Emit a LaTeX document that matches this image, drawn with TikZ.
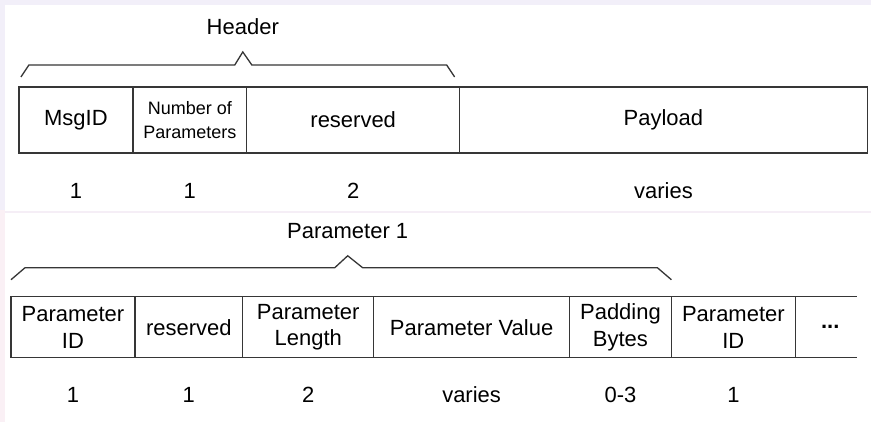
\documentclass[tikz,border=0pt]{standalone}
\usepackage{xcolor}
\usepackage{fontspec}
\setmainfont{Liberation Sans}
\usepackage{tikz}
\usetikzlibrary{positioning,calc}

\definecolor{linegray}{HTML}{363636}
\definecolor{bglav}{HTML}{F2EFF9}
\definecolor{bgpink}{HTML}{FAF0F5}
\definecolor{seppink}{HTML}{F5EEF6}

\begin{document}
\begin{tikzpicture}[
  x=1pt, y=1pt,
  font=\fontsize{22}{27}\selectfont,
  field/.style={draw=linegray, line width=1.3pt, minimum height=66pt, inner sep=0pt,
                outer sep=0pt, align=center},
  pfield/.style={field, minimum height=61pt},
  num/.style={inner sep=0pt, text height=15pt, text depth=0pt},
  brace/.style={draw=linegray, line width=1.3pt},
  edgeline/.style={draw=linegray, line width=1.3pt},
]
\fill[bglav] (0,0) rectangle (872,422);
\fill[bgpink] (0,0) rectangle (5,212);
\fill[white] (5,0) rectangle (872,417);
\draw[seppink, line width=1.5pt] (5,210) -- (872,210);
\useasboundingbox (0,0) rectangle (872,422);

% message layout
\node[field, minimum width=114pt] (msgid) at (76,302) {MsgID};
\node[field, minimum width=114pt, right=0pt of msgid,
      font=\fontsize{18}{23.5}\selectfont] (nparam) {Number of\\Parameters};
\node[field, minimum width=213pt, right=0pt of nparam] (hres) {reserved};
\node[field, minimum width=408pt, right=0pt of hres] (payload) {Payload};

\node[num, below=30pt of msgid] (nmsgid) {1};
\node[num, below=30pt of nparam] (nnparam) {1};
\node[num, below=30pt of hres] (nhres) {2};
\node[num, below=30pt of payload] (npayload) {varies};

\coordinate (hpeak) at (243,370);
\draw[brace] ($(msgid.north west)+(2,10)$) -- ++(8,12) -- ($(hpeak)+(-8,-13)$)
  -- (hpeak) -- ++(9,-13) -- ($(hres.north east)+(-13,22)$) -- ++(8,-12);
\node[num, above=17pt of hpeak] (header) {Header};

% parameter layout
\node[pfield, minimum width=124pt] (pid) at (73,94.5) {Parameter\\ID};
\node[pfield, minimum width=108pt, right=0pt of pid] (pres) {reserved};
\node[pfield, minimum width=131pt, right=0pt of pres] (plen) {Parameter\\Length};
\node[pfield, minimum width=196pt, right=0pt of plen] (pval) {Parameter Value};
\node[pfield, minimum width=102pt, right=0pt of pval] (pad) {Padding\\Bytes};
\node[pfield, minimum width=124pt, right=0pt of pad] (pid2) {Parameter\\ID};
\node[minimum width=62pt, minimum height=61pt, inner sep=0pt, outer sep=0pt,
      right=0pt of pid2] (more) {};
\node[xshift=4pt] (dots) at (more) {\textbf{...}};
\draw[edgeline] (pid2.north east) -- (more.north east);
\draw[edgeline] (pid2.south east) -- (more.south east);

\node[num, below=30pt of pid] (npid) {1};
\node[num, below=30pt of pres] (npres) {1};
\node[num, below=30pt of plen] (nplen) {2};
\node[num, below=30pt of pval] (npval) {varies};
\node[num, below=30pt of pad] (npad) {0-3};
\node[num, below=30pt of pid2] (npid2) {1};

\coordinate (ppeak) at (348,166);
\draw[brace] ($(pid.north west)+(0,17)$) -- ++(14,12) -- ($(ppeak)+(-13,-12)$)
  -- (ppeak) -- ++(15,-12) -- ($(pad.north east)+(-14,29)$) -- ++(14,-12);
\node[num, above=17pt of ppeak] (param1) {Parameter 1};
\end{tikzpicture}
\end{document}
